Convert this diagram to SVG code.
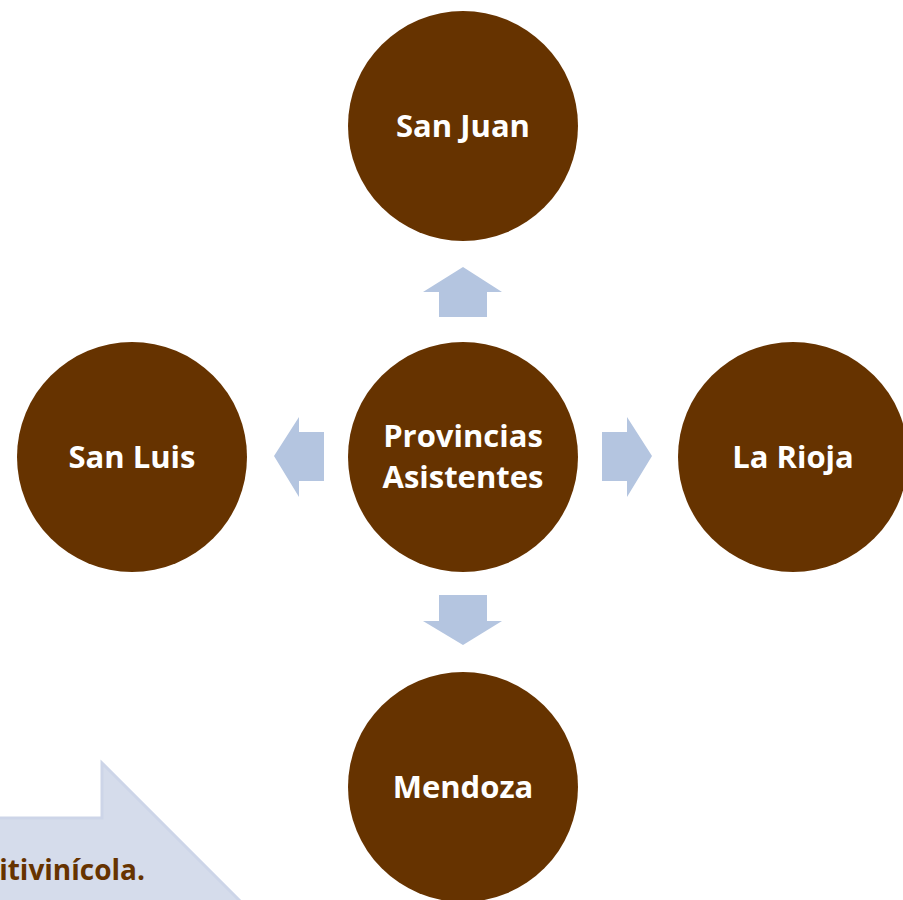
<svg xmlns="http://www.w3.org/2000/svg" width="903" height="900" viewBox="0 0 903 900">
<style>
.node{fill:#663300}
.lbl{fill:#ffffff;font-family:"Open Sans","Liberation Sans",sans-serif;font-weight:bold;font-size:31px;text-anchor:middle}
.arr{fill:#B4C5E0}
</style>
<rect width="903" height="900" fill="#ffffff"/>
<g id="bigarrow">
<polygon points="-10,818 102,818 102,763 300,961 -10,961" fill="#D5DCEB" stroke="#CDD5E8" stroke-width="3"/>
<text x="145" y="880" font-family="Open Sans, Liberation Sans, sans-serif" font-weight="bold" font-size="28" fill="#663300" text-anchor="end">itivinícola.</text>
</g>
<g id="connectors">
<polygon class="arr" points="463,267 502,292 487,292 487,317 439,317 439,292 423,292"/>
<polygon class="arr" points="274,456 299,417 299,432 324,432 324,481 299,481 299,497"/>
<polygon class="arr" points="652,456 627,417 627,432 602,432 602,481 627,481 627,497"/>
<polygon class="arr" points="463,645 502,621 487,621 487,595 439,595 439,621 423,621"/>
</g>
<g id="center"><circle class="node" cx="463" cy="457" r="115"/><text class="lbl" x="463" y="447">Provincias</text><text class="lbl" x="463" y="488">Asistentes</text></g>
<g id="sanjuan"><circle class="node" cx="463" cy="126" r="115"/><text class="lbl" x="463" y="137">San Juan</text></g>
<g id="sanluis"><circle class="node" cx="132" cy="457" r="115"/><text class="lbl" x="132" y="468">San Luis</text></g>
<g id="larioja"><circle class="node" cx="793" cy="457" r="115"/><text class="lbl" x="793" y="468">La Rioja</text></g>
<g id="mendoza"><circle class="node" cx="463" cy="787" r="115"/><text class="lbl" x="463" y="798">Mendoza</text></g>
</svg>
